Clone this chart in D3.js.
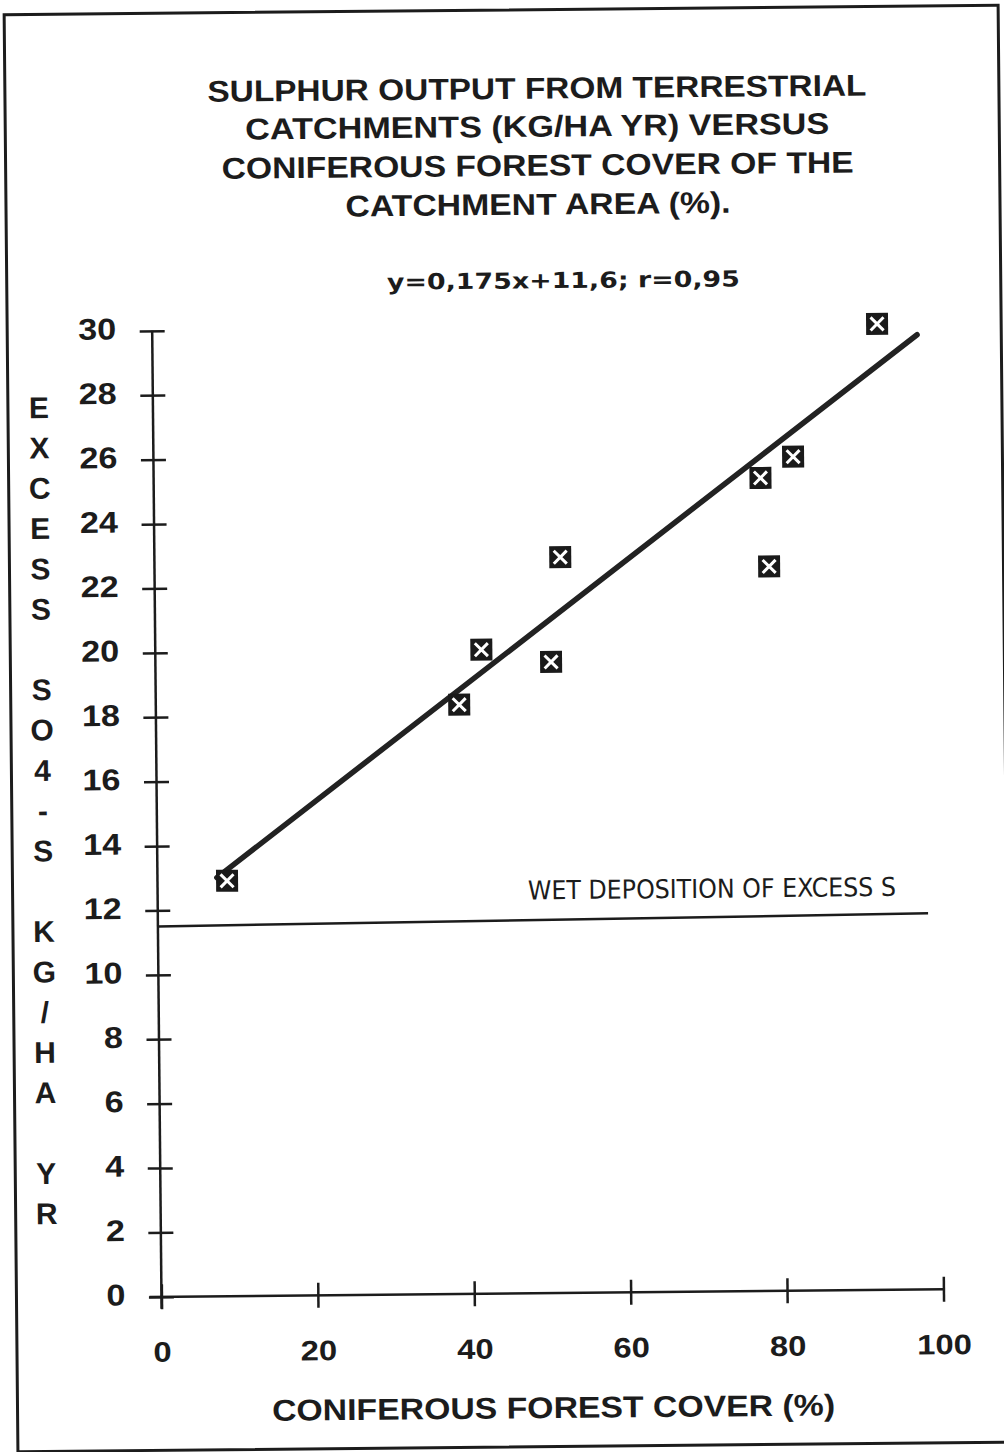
<!DOCTYPE html>
<html><head><meta charset="utf-8">
<script src="https://cdn.jsdelivr.net/npm/d3@7"></script>
<style>
html,body{margin:0;padding:0;background:#fff;}
svg{display:block;}
</style></head>
<body>
<script>
// ---- data ----
const titleLines = ["SULPHUR OUTPUT FROM TERRESTRIAL", "CATCHMENTS (KG/HA YR) VERSUS", "CONIFEROUS FOREST COVER OF THE", "CATCHMENT AREA (%)."];
const equationText = "y=0,175x+11,6;  r=0,95";
const xTitle = "CONIFEROUS FOREST COVER (%)";
const yTitleChars = "EXCESS SO4-S KG/HA YR";
const wetLabel = "WET DEPOSITION OF EXCESS S";
const xTicks = [0, 20, 40, 60, 80, 100];
const yTicks = [0, 2, 4, 6, 8, 10, 12, 14, 16, 18, 20, 22, 24, 26, 28, 30];
const forestCover = [8.9, 38.8, 41.7, 50.6, 51.9, 77.6, 78.6, 81.8, 92.7];
const sulphurOut = [12.9, 18.3, 20.0, 19.6, 22.85, 25.25, 22.5, 25.9, 30.0];
const fitX = [7.6, 97.8];
const fitY = [13.0, 29.65];
const wetX = [0, 98.5];
const wetY = [11.5, 11.68];

// ---- layout ----
const W = 1004, H = 1452;
const ink = "#1c1c1c";
const svg = d3.select("body").append("svg").attr("width", W).attr("height", H);
svg.append("rect").attr("width", W).attr("height", H).attr("fill", "#fff");
const root = svg.append("g").attr("transform", "rotate(-0.55, 502, 726)");

const x = d3.scaleLinear().domain([0, 100]).range([156, 938]);
const y = d3.scaleLinear().domain([0, 30]).range([1293.5, 327.5]);

function fit(sel, w) { sel.attr("textLength", w).attr("lengthAdjust", "spacingAndGlyphs"); }
function stretch(sel, k) {
  sel.each(function () { const n = this.getComputedTextLength(); d3.select(this).attr("textLength", n * k).attr("lengthAdjust", "spacingAndGlyphs"); });
}

// frame
root.append("rect").attr("x", 11).attr("y", 10).attr("width", 994).attr("height", 1437)
  .attr("fill", "none").attr("stroke", ink).attr("stroke-width", 3);

const font = "'Liberation Sans', Arial, Helvetica, sans-serif";

// title
const titleW = [659, 584, 632, 385];
const titleBase = [99, 137, 176, 215];
root.append("g").selectAll("text").data(titleLines).join("text")
  .attr("x", 543).attr("y", (d, i) => titleBase[i])
  .attr("text-anchor", "middle").attr("font-family", font).attr("font-weight", "bold")
  .attr("font-size", 30).attr("fill", ink).text(d => d)
  .each(function (d, i) { fit(d3.select(this), titleW[i]); });

// equation
root.append("text").attr("x", 567.7).attr("y", 288.6).attr("text-anchor", "middle")
  .attr("font-family", "'DejaVu Sans', sans-serif").attr("font-weight", "bold")
  .attr("font-size", 22).attr("fill", ink).text(equationText)
  .call(fit, 353);

// y axis
const yAx = root.append("g").attr("transform", `translate(${x(0)},0)`)
  .call(d3.axisLeft(y).tickValues(yTicks).tickSize(12).tickFormat(d3.format("d")));
yAx.select(".domain").remove();
yAx.selectAll(".tick line").attr("x1", -12.5).attr("x2", 12.5).attr("stroke", ink).attr("stroke-width", 2.5);
yAx.selectAll(".tick text").attr("x", 120 - x(0)).attr("dy", null).attr("y", 7.7)
  .attr("text-anchor", "end").attr("font-family", font).attr("font-weight", "bold")
  .attr("font-size", 30).attr("fill", ink);
yAx.attr("font-family", null).attr("font-size", null);
stretch(yAx.selectAll(".tick text"), 1.14);
root.append("line").attr("x1", x(0)).attr("x2", x(0)).attr("y1", y(30)).attr("y2", y(0) + 12)
  .attr("stroke", ink).attr("stroke-width", 2.5);

// x axis
const xAx = root.append("g").attr("transform", `translate(0,${y(0)})`)
  .call(d3.axisBottom(x).tickValues(xTicks).tickSize(12).tickFormat(d3.format("d")));
xAx.select(".domain").remove();
xAx.selectAll(".tick line").attr("y1", -12.5).attr("y2", 12.5).attr("stroke", ink).attr("stroke-width", 2.5);
xAx.selectAll(".tick text").attr("y", 1358.5 - y(0)).attr("dy", null)
  .attr("font-family", font).attr("font-weight", "bold").attr("font-size", 28).attr("fill", ink);
xAx.attr("font-family", null).attr("font-size", null);
stretch(xAx.selectAll(".tick text"), 1.17);
root.append("line").attr("x1", x(0) - 12).attr("x2", x(100)).attr("y1", y(0)).attr("y2", y(0))
  .attr("stroke", ink).attr("stroke-width", 2.5);

// axis titles
root.append("text").attr("x", 547).attr("y", 1418.5).attr("text-anchor", "middle")
  .attr("font-family", font).attr("font-weight", "bold").attr("font-size", 30).attr("fill", ink)
  .text(xTitle).call(fit, 563);

root.append("g").selectAll("text").data(yTitleChars.split("")).join("text")
  .attr("x", 42).attr("y", (d, i) => 403 + i * 40.3 + 10.7)
  .attr("text-anchor", "middle").attr("font-family", font).attr("font-weight", "bold")
  .attr("font-size", 30).attr("fill", ink).text(d => d);

// wet deposition line and label
const line = d3.line().x(d => x(d[0])).y(d => y(d[1]));
root.append("path").datum(d3.zip(wetX, wetY)).attr("d", line)
  .attr("fill", "none").attr("stroke", ink).attr("stroke-width", 2.5);
root.append("text").attr("x", 710.4).attr("y", 899.7).attr("text-anchor", "middle")
  .attr("font-family", "'DejaVu Sans', sans-serif").attr("font-size", 26).attr("fill", ink)
  .text(wetLabel).call(fit, 368);

// regression line
root.append("path").datum(d3.zip(fitX, fitY)).attr("d", line)
  .attr("fill", "none").attr("stroke", "#222").attr("stroke-width", 5.5).attr("stroke-linecap", "round");

// markers
const pts = d3.zip(forestCover, sulphurOut);
const m = root.append("g").selectAll("g").data(pts).join("g")
  .attr("transform", d => `translate(${x(d[0])},${y(d[1])})`);
m.append("rect").attr("x", -11).attr("y", -11).attr("width", 22).attr("height", 22).attr("fill", "#1a1a1a");
m.append("path").attr("d", "M-6.5,-6.5L6.5,6.5M6.5,-6.5L-6.5,6.5")
  .attr("stroke", "#fff").attr("stroke-width", 3).attr("fill", "none");
</script>
</body></html>
